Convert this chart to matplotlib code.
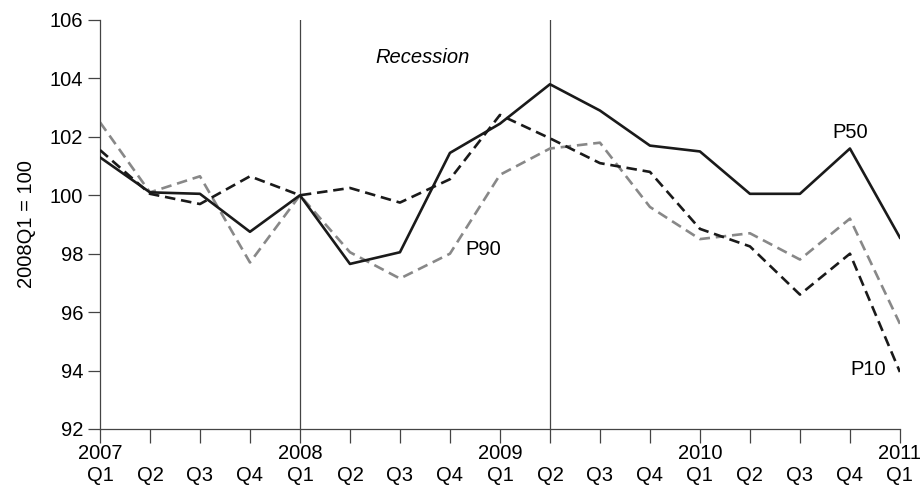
import matplotlib
matplotlib.use("Agg")
import matplotlib.pyplot as plt

plt.rcParams['font.family'] = ['Liberation Sans', 'DejaVu Sans']

years = ["2007", "", "", "", "2008", "", "", "", "2009", "", "", "", "2010", "", "", "", "2011"]
quarters = ["Q1", "Q2", "Q3", "Q4"] * 4 + ["Q1"]

p50 = [101.3, 100.1, 100.05, 98.75, 100.0, 97.65, 98.05, 101.45, 102.45, 103.8,
       102.9, 101.7, 101.5, 100.05, 100.05, 101.6, 98.55]
p10 = [101.55, 100.05, 99.7, 100.65, 100.0, 100.25, 99.75, 100.55, 102.75, 101.95,
       101.1, 100.8, 98.85, 98.25, 96.6, 98.0, 93.95]
p90 = [102.5, 100.1, 100.65, 97.7, 100.0, 98.05, 97.15, 98.0, 100.7, 101.6,
       101.8, 99.6, 98.5, 98.7, 97.8, 99.2, 95.6]

x = list(range(len(quarters)))
labels = [f"{y}\n{q}" for y, q in zip(years, quarters)]

fs = 14.5

fig = plt.figure(figsize=(9.23, 4.91), dpi=100)
ax = fig.add_axes([0.1083, 0.1263, 0.8667, 0.833])

# recession markers
ax.axvline(4, color="#444444", lw=0.9, zorder=1)
ax.axvline(9, color="#444444", lw=0.9, zorder=1)

ax.plot(x, p90, color="#888888", lw=1.9, dashes=(4, 2.2), zorder=2)
ax.plot(x, p10, color="#1a1a1a", lw=1.9, dashes=(4, 2.2), zorder=3)
ax.plot(x, p50, color="#1a1a1a", lw=1.9, zorder=4)

ax.text(6.46, 104.72, "Recession", style="italic", fontsize=fs, ha="center", va="center")
ax.text(7.66, 98.15, "P90", fontsize=fs, ha="center", va="center")
ax.text(15.0, 102.15, "P50", fontsize=fs, ha="center", va="center")
ax.text(15.36, 94.05, "P10", fontsize=fs, ha="center", va="center")

ax.set_xlim(0, 16)
ax.set_ylim(92, 106)
ax.set_xticks(x)
ax.set_xticklabels(labels, fontsize=fs, linespacing=1.15)
ax.set_yticks(range(92, 107, 2))
ax.tick_params(axis="y", labelsize=fs, length=9, width=0.9, color="#444444", pad=3)
ax.tick_params(axis="x", length=10, width=0.9, color="#444444", pad=1)
ax.set_ylabel("2008Q1 = 100", fontsize=fs, labelpad=10)

for s in ["top", "right"]:
    ax.spines[s].set_visible(False)
for s in ["left", "bottom"]:
    ax.spines[s].set_color("#444444")
    ax.spines[s].set_linewidth(0.9)

fig.savefig("out.png", dpi=100)
